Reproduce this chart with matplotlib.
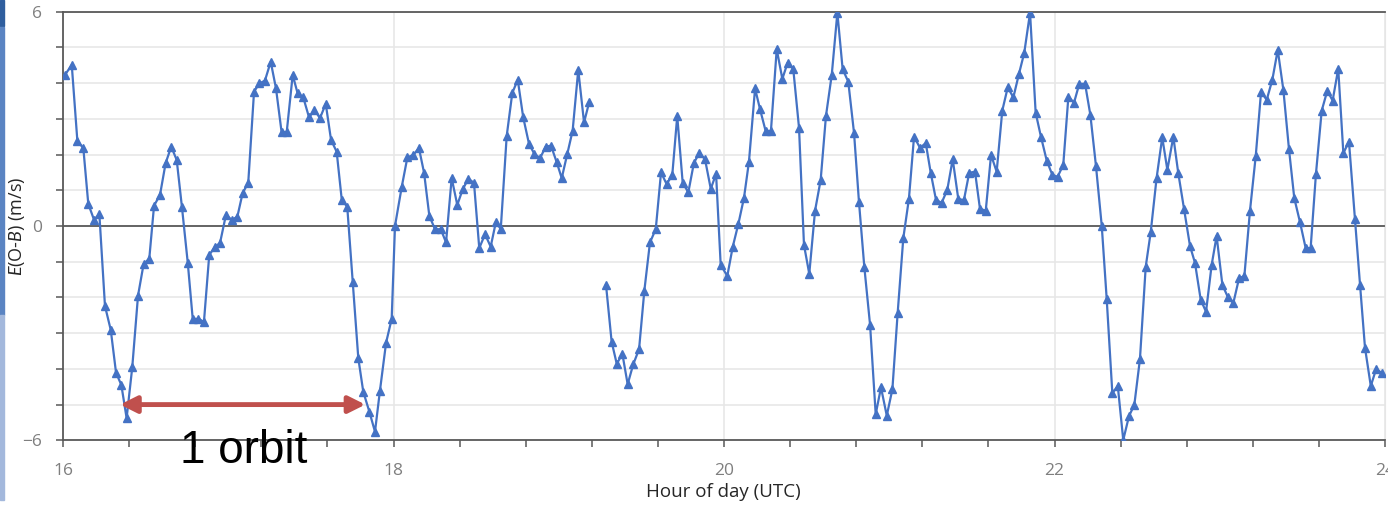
import numpy as np
import matplotlib
matplotlib.use("Agg")
import matplotlib.pyplot as plt
from matplotlib.ticker import MultipleLocator
from matplotlib.patches import Rectangle

plt.rcParams['font.family'] = ['Open Sans', 'DejaVu Sans']
plt.rcParams['mathtext.fontset'] = 'custom'
plt.rcParams['mathtext.rm'] = 'Lato'
plt.rcParams['mathtext.it'] = 'Lato:italic'

# Hour of day (UTC) for each O-B sample
hours_a = [16.012, 16.053, 16.087, 16.123, 16.153, 16.188, 16.220, 16.254, 16.289, 16.321,
           16.353, 16.385, 16.419, 16.454, 16.488, 16.522, 16.551, 16.587, 16.621, 16.655,
           16.688, 16.720, 16.755, 16.785, 16.819, 16.853, 16.885, 16.920, 16.950, 16.986,
           17.021, 17.055, 17.087, 17.121, 17.156, 17.188, 17.222, 17.257, 17.289, 17.323,
           17.354, 17.390, 17.420, 17.454, 17.489, 17.521, 17.555, 17.590, 17.622, 17.656,
           17.687, 17.720, 17.753, 17.787, 17.817, 17.854, 17.888, 17.918, 17.955, 17.989,
           18.009, 18.050, 18.084, 18.120, 18.154, 18.185, 18.217, 18.251, 18.286, 18.318,
           18.352, 18.386, 18.419, 18.453, 18.487, 18.519, 18.554, 18.588, 18.620, 18.649,
           18.685, 18.719, 18.752, 18.785, 18.820, 18.852, 18.887, 18.921, 18.953, 18.988,
           19.018, 19.052, 19.084, 19.118, 19.153, 19.185]
ob_a = [4.23, 4.51, 2.38, 2.18, 0.62, 0.17, 0.33, -2.24, -2.91, -4.11,
        -4.45, -5.38, -3.96, -1.95, -1.06, -0.92, 0.57, 0.87, 1.76, 2.22,
        1.85, 0.52, -1.03, -2.60, -2.60, -2.68, -0.81, -0.58, -0.48, 0.31,
        0.17, 0.26, 0.92, 1.21, 3.76, 3.99, 4.07, 4.60, 3.85, 2.62,
        2.64, 4.23, 3.71, 3.60, 3.04, 3.25, 3.02, 3.42, 2.41, 2.08,
        0.73, 0.54, -1.56, -3.70, -4.64, -5.20, -5.76, -4.61, -3.27, -2.60,
        0.00, 1.10, 1.92, 1.99, 2.18, 1.49, 0.28, -0.09, -0.09, -0.46,
        1.34, 0.59, 1.03, 1.32, 1.21, -0.62, -0.23, -0.58, 0.12, -0.09,
        2.52, 3.73, 4.09, 3.04, 2.30, 2.02, 1.90, 2.22, 2.25, 1.78,
        1.34, 2.02, 2.67, 4.37, 2.90, 3.48]

hours_b = [19.286, 19.320, 19.351, 19.385, 19.417, 19.451, 19.486, 19.518, 19.552, 19.587,
           19.619, 19.653, 19.687, 19.717, 19.750, 19.784, 19.818, 19.851, 19.885, 19.920,
           19.952, 19.980, 20.020, 20.053, 20.087, 20.121, 20.151, 20.188, 20.218, 20.252,
           20.284, 20.319, 20.353, 20.385, 20.419, 20.454, 20.484, 20.516, 20.551, 20.585,
           20.617, 20.652, 20.686, 20.718, 20.752, 20.787, 20.817, 20.849, 20.884, 20.918,
           20.950, 20.985, 21.019, 21.051, 21.085, 21.119, 21.150, 21.186, 21.221, 21.251,
           21.283, 21.317, 21.351, 21.384, 21.418, 21.452, 21.484, 21.519, 21.549, 21.584,
           21.616, 21.650, 21.684, 21.717, 21.751, 21.785, 21.817, 21.852, 21.886, 21.918,
           21.953, 21.987, 22.019, 22.053, 22.084, 22.118, 22.150, 22.185, 22.217, 22.251,
           22.286, 22.316, 22.350, 22.383, 22.416, 22.451, 22.483, 22.517, 22.552, 22.582,
           22.618, 22.652, 22.683, 22.719, 22.749, 22.784, 22.820, 22.850, 22.885, 22.917,
           22.951, 22.981, 23.016, 23.048, 23.082, 23.117, 23.149, 23.183, 23.218, 23.250,
           23.284, 23.318, 23.351, 23.385, 23.419, 23.451, 23.486, 23.520, 23.550, 23.582,
           23.617, 23.651, 23.683, 23.717, 23.748, 23.782, 23.818, 23.849, 23.879, 23.914,
           23.946, 23.980]
ob_b = [-1.65, -3.24, -3.86, -3.58, -4.43, -3.87, -3.45, -1.81, -0.46, -0.09,
        1.50, 1.17, 1.43, 3.08, 1.21, 0.94, 1.77, 2.04, 1.87, 1.04,
        1.46, -1.09, -1.40, -0.58, 0.06, 0.79, 1.80, 3.85, 3.27, 2.66,
        2.66, 4.95, 4.12, 4.57, 4.40, 2.75, -0.53, -1.34, 0.43, 1.29,
        3.08, 4.23, 5.97, 4.39, 4.04, 2.60, 0.66, -1.14, -2.77, -5.27,
        -4.52, -5.31, -4.57, -2.43, -0.34, 0.76, 2.50, 2.19, 2.32, 1.49,
        0.73, 0.65, 1.01, 1.87, 0.75, 0.73, 1.49, 1.52, 0.48, 0.43,
        1.99, 1.52, 3.23, 3.88, 3.60, 4.26, 4.85, 5.97, 3.17, 2.50,
        1.83, 1.43, 1.38, 1.71, 3.62, 3.45, 3.98, 3.98, 3.11, 1.68,
        0.00, -2.05, -4.68, -4.48, -5.99, -5.32, -5.01, -3.73, -1.14, -0.18,
        1.35, 2.48, 1.57, 2.50, 1.48, 0.48, -0.56, -1.03, -2.07, -2.40,
        -1.09, -0.28, -1.65, -1.98, -2.16, -1.46, -1.40, 0.43, 1.97, 3.76,
        3.53, 4.09, 4.93, 3.81, 2.15, 0.78, 0.10, -0.62, -0.62, 1.45,
        3.23, 3.79, 3.51, 4.40, 2.04, 2.36, 0.20, -1.65, -3.41, -4.48,
        -4.01, -4.11]

# one orbit marker (start hour, end hour, level)
orbit_start = 16.345
orbit_end = 17.83
orbit_level = -5.0

# break the line where samples are missing
hours = np.array(hours_a + [np.nan] + hours_b)
ob = np.array(ob_a + [np.nan] + ob_b)

fig = plt.figure(figsize=(13.88, 5.05), dpi=100)
ax = fig.add_axes([63 / 1388, 1 - 440.3 / 505, (1385 - 63) / 1388, (440.3 - 11.7) / 505])

blue = '#4472C4'
ax.plot(hours, ob, color=blue, linewidth=1.6, marker='^', markersize=5.5,
        markerfacecolor=blue, markeredgecolor=blue, zorder=4)

ax.set_xlim(16, 24)
ax.set_ylim(-6, 6)

# gridlines: every 1 m/s horizontally, every 2 h vertically
ax.yaxis.set_major_locator(MultipleLocator(6))
ax.yaxis.set_minor_locator(MultipleLocator(1))
ax.xaxis.set_major_locator(MultipleLocator(2))
ax.xaxis.set_minor_locator(MultipleLocator(0.4))
ax.grid(True, which='both', axis='y', color='#e6e6e6', linewidth=1.1, zorder=0)
ax.grid(True, which='major', axis='x', color='#e6e6e6', linewidth=1.1, zorder=0)
ax.axhline(0, color='#595959', linewidth=1.3, zorder=2)

for side in ['left', 'bottom', 'top']:
    ax.spines[side].set_color('#595959')
    ax.spines[side].set_linewidth(1.3)
ax.spines['right'].set_color('#e6e6e6')

ax.tick_params(which='both', direction='out', length=5, width=1.1, color='#595959')
ax.tick_params(axis='both', which='major', labelsize=12.5, labelcolor='#7f7f7f')
ax.tick_params(axis='y', which='major', pad=10)
ax.tick_params(axis='x', which='major', pad=11)

ax.set_xlabel('Hour of day (UTC)', fontsize=13.5, color='#262626')
ax.xaxis.set_label_coords((723 - 63) / 1322, -(483 - 440.3) / 428.6)
ax.set_ylabel('$E$(O-$B$) (m/s)', fontsize=13, color='#262626')
ax.yaxis.set_label_coords(-(63 - 27) / 1322, 0.5)

# orbit length arrow and label
ax.annotate('', xy=(orbit_start, orbit_level), xytext=(orbit_end, orbit_level),
            arrowprops=dict(arrowstyle='<|-|>', color='#C0504D', linewidth=3.5,
                            mutation_scale=25, shrinkA=0, shrinkB=0), zorder=5)
ax.text(16.708, -6.63, '1 orbit', fontsize=33, family='Liberation Sans', color='black',
        ha='left', va='baseline', zorder=6, clip_on=False)

# slide edge bar on the left
fig.patches.append(Rectangle((0, 1 - 26 / 505), 4 / 1388, 26 / 505, transform=fig.transFigure,
                             color='#2F5E9E', zorder=0))
fig.patches.append(Rectangle((0, 1 - 315 / 505), 4 / 1388, 288 / 505, transform=fig.transFigure,
                             color='#5A84C2', zorder=0))
fig.patches.append(Rectangle((0, 1 - 500 / 505), 4 / 1388, 185 / 505, transform=fig.transFigure,
                             color='#A3B8DC', zorder=0))

fig.savefig('out.png', dpi=100)
